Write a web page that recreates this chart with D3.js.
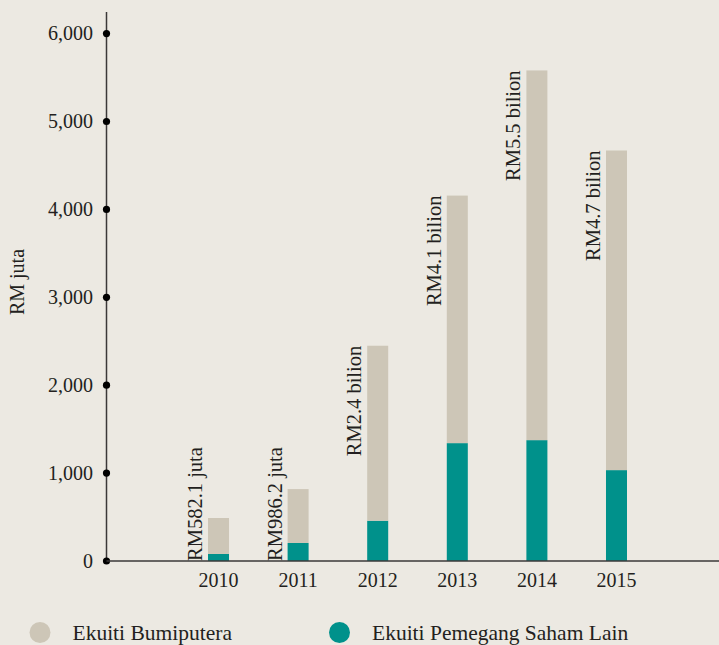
<!DOCTYPE html>
<html>
<head>
<meta charset="utf-8">
<script src="https://cdn.jsdelivr.net/npm/d3@7"></script>
<style>
  html, body { margin: 0; padding: 0; background: #ece9e2; }
  svg text { font-family: "Liberation Serif", "Times New Roman", "DejaVu Serif", serif; }
</style>
</head>
<body>
<div class="viz"></div>
<script>
// values (RM juta)
const years = ["2010", "2011", "2012", "2013", "2014", "2015"];
const lainValues = [80, 205, 458, 1341, 1375, 1034];       // Ekuiti Pemegang Saham Lain
const bumiValues = [409, 613, 1991, 2816, 4206, 3636];     // Ekuiti Bumiputera
const barLabels = ["RM582.1 juta", "RM986.2 juta", "RM2.4 bilion", "RM4.1 bilion", "RM5.5 bilion", "RM4.7 bilion"];
const yTicks = [0, 1000, 2000, 3000, 4000, 5000, 6000];
const seriesNames = ["Ekuiti Bumiputera", "Ekuiti Pemegang Saham Lain"];

const colors = { lain: "#00918b", bumi: "#cdc6b7", axis: "#3b3838", text: "#231f20" };
const serif = '"Liberation Serif", "Times New Roman", "DejaVu Serif", serif';

const dimensions = {
    width: 719,
    height: 645,
    margin: { top: 12, left: 106.5, bottom: 84 },
};
const baseY = dimensions.height - dimensions.margin.bottom; // 561

// 1. build the table for the stack
const table = years.map((y, i) => ({ year: y, lain: lainValues[i], bumi: bumiValues[i] }));
const stacked = d3.stack().keys(["lain", "bumi"])(table);

// 2. canvas
const wrapper = d3.select(".viz")
    .append("svg")
    .attr("width", dimensions.width)
    .attr("height", dimensions.height)
    .attr("font-family", serif);

wrapper.append("rect")
    .attr("width", dimensions.width)
    .attr("height", dimensions.height)
    .attr("fill", "#ece9e2");

// 3. scales
const yScale = d3.scaleLinear()
    .domain([0, 6000])
    .range([baseY, baseY - 6 * 87.9]);

const xScale = d3.scaleBand()
    .domain(years)
    .range([208, 627])
    .paddingInner(0.736)
    .paddingOuter(0);

// 4. bars
wrapper.append("g")
    .selectAll("g")
    .data(stacked)
    .join("g")
    .attr("fill", d => colors[d.key])
    .selectAll("rect")
    .data(d => d)
    .join("rect")
    .attr("x", d => xScale(d.data.year))
    .attr("y", d => yScale(d[1]))
    .attr("width", xScale.bandwidth())
    .attr("height", d => yScale(d[0]) - yScale(d[1]));

// 5. rotated labels next to the bars
wrapper.append("g")
    .selectAll("text")
    .data(table)
    .join("text")
    .attr("transform", d => {
        const total = d.lain + d.bumi;
        const yPos = total < 1000 ? yScale(0) : yScale(total);
        return `translate(${xScale(d.year) - 6},${yPos}) rotate(-90)`;
    })
    .attr("text-anchor", d => (d.lain + d.bumi) < 1000 ? "start" : "end")
    .attr("fill", colors.text)
    .style("font-family", serif)
    .style("font-size", "20.5px")
    .text((d, i) => barLabels[i]);

// 6. axes
const yAxis = wrapper.append("g");
yAxis.append("line")
    .attr("x1", dimensions.margin.left).attr("x2", dimensions.margin.left)
    .attr("y1", dimensions.margin.top).attr("y2", baseY)
    .attr("stroke", colors.axis).attr("stroke-width", 1.5);

wrapper.append("line")
    .attr("x1", dimensions.margin.left).attr("x2", dimensions.width)
    .attr("y1", baseY).attr("y2", baseY)
    .attr("stroke", colors.axis).attr("stroke-width", 1.5);

yAxis.selectAll("circle")
    .data(yTicks)
    .join("circle")
    .attr("cx", dimensions.margin.left)
    .attr("cy", d => yScale(d))
    .attr("r", 3.6)
    .attr("fill", "#000");

yAxis.selectAll("text")
    .data(yTicks)
    .join("text")
    .attr("x", 93)
    .attr("y", d => yScale(d))
    .attr("dy", "0.34em")
    .attr("text-anchor", "end")
    .attr("fill", colors.text)
    .style("font-family", serif)
    .style("font-size", "20px")
    .text(d => d3.format(",")(d));

wrapper.append("g")
    .selectAll("text")
    .data(years)
    .join("text")
    .attr("x", d => xScale(d) + xScale.bandwidth() / 2)
    .attr("y", 587)
    .attr("text-anchor", "middle")
    .attr("fill", colors.text)
    .style("font-family", serif)
    .style("font-size", "20px")
    .text(d => d);

// y axis title
wrapper.append("text")
    .attr("transform", `translate(24,282) rotate(-90)`)
    .attr("text-anchor", "middle")
    .attr("fill", colors.text)
    .style("font-family", serif)
    .style("font-size", "20px")
    .text("RM juta");

// 7. legend
const legend = wrapper.append("g")
    .selectAll("g")
    .data(seriesNames)
    .join("g")
    .attr("transform", (d, i) => `translate(${i === 0 ? 40 : 339.5},632.5)`);

legend.append("circle")
    .attr("r", 10.5)
    .attr("fill", (d, i) => i === 0 ? colors.bumi : colors.lain);

legend.append("text")
    .attr("x", 32.5)
    .attr("y", 7.5)
    .attr("fill", colors.text)
    .style("font-family", serif)
    .style("font-size", "21.5px")
    .text(d => d);
</script>
</body>
</html>
